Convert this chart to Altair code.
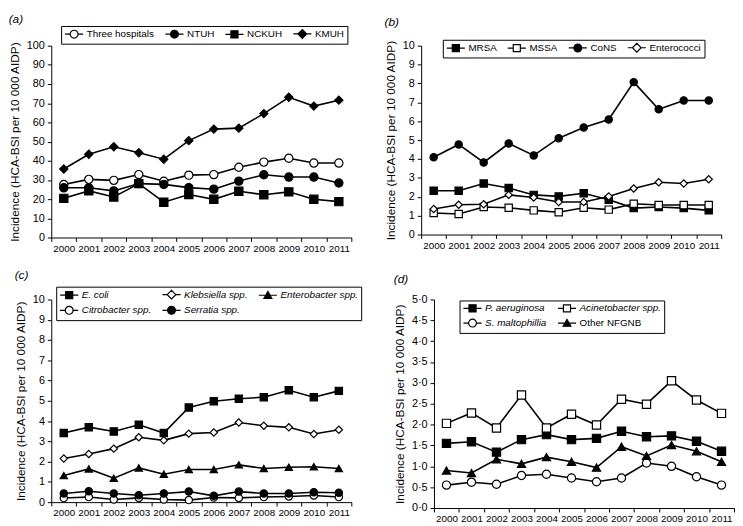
import altair as alt
import pandas as pd

FONT = "Liberation Sans"
YEARS = [str(y) for y in range(2000, 2012)]
YTITLE = "Incidence (HCA-BSI per 10 000 AIDP)"

# Panel (a)
A_SERIES = ["Three hospitals", "NTUH", "NCKUH", "KMUH"]
A_THREE = [27.6, 30.3, 29.8, 32.8, 29.3, 32.5, 32.8, 36.6, 39.3, 41.3, 38.8, 38.8]
A_NTUH = [25.9, 25.9, 24.3, 28.1, 27.7, 26.0, 25.2, 29.4, 32.7, 31.5, 31.5, 28.4]
A_NCKUH = [20.4, 24.3, 21.1, 28.1, 18.4, 22.4, 19.9, 24.1, 22.3, 23.8, 19.9, 18.7]
A_KMUH = [35.7, 43.4, 47.3, 44.2, 40.8, 50.5, 56.5, 57.0, 64.6, 73.1, 68.5, 71.6]

# Panel (b)
B_SERIES = ["MRSA", "MSSA", "CoNS", "Enterococci"]
B_MRSA = [2.32, 2.32, 2.70, 2.46, 2.10, 2.02, 2.19, 1.84, 1.40, 1.46, 1.40, 1.28]
B_MSSA = [1.14, 1.09, 1.46, 1.42, 1.28, 1.18, 1.42, 1.32, 1.63, 1.56, 1.56, 1.56]
B_CONS = [4.09, 4.77, 3.82, 4.82, 4.19, 5.10, 5.67, 6.09, 8.07, 6.63, 7.10, 7.10]
B_ENTEROCOCCI = [1.35, 1.58, 1.60, 2.10, 1.96, 1.72, 1.72, 2.02, 2.44, 2.77, 2.70, 2.93]

# Panel (c)
C_SERIES = ["E. coli", "Klebsiella spp.", "Enterobacter spp.", "Citrobacter spp.", "Serratia spp."]
C_ECOLI = [3.41, 3.70, 3.49, 3.82, 3.41, 4.67, 4.98, 5.10, 5.18, 5.52, 5.18, 5.49]
C_KLEB = [2.15, 2.38, 2.64, 3.20, 3.05, 3.38, 3.44, 3.93, 3.77, 3.69, 3.36, 3.57]
C_ENTERO = [1.31, 1.64, 1.18, 1.69, 1.38, 1.61, 1.61, 1.84, 1.66, 1.72, 1.75, 1.66]
C_CITRO = [0.20, 0.25, 0.13, 0.21, 0.13, 0.10, 0.23, 0.21, 0.25, 0.28, 0.33, 0.25]
C_SERRATIA = [0.43, 0.54, 0.43, 0.34, 0.43, 0.52, 0.31, 0.52, 0.43, 0.43, 0.49, 0.46]

# Panel (d)
D_SERIES = ["P. aeruginosa", "Acinetobacter spp.", "S. maltophillia", "Other NFGNB"]
D_PAER = [1.55, 1.59, 1.34, 1.64, 1.76, 1.64, 1.67, 1.84, 1.71, 1.73, 1.60, 1.36]
D_ACIN = [2.03, 2.28, 1.92, 2.71, 1.92, 2.25, 1.99, 2.61, 2.49, 3.05, 2.59, 2.27]
D_SMALT = [0.55, 0.62, 0.57, 0.78, 0.81, 0.72, 0.63, 0.72, 1.08, 1.00, 0.75, 0.55]
D_OTHER = [0.90, 0.84, 1.17, 1.06, 1.22, 1.11, 0.97, 1.47, 1.25, 1.51, 1.36, 1.11]

# legend glyphs: a short line with the marker on it
LEG_PATHS = {
    ("circle", "white"): "M-1,0H0.3M2.3,0H3.6M0.3,0A1,1,0,1,1,2.3,0A1,1,0,1,1,0.3,0Z",
    ("circle", "black"): "M-1,0H3.6M0.3,0A1,1,0,1,1,2.3,0A1,1,0,1,1,0.3,0Z",
    ("square", "white"): "M-1,0H0.4M2.2,0H3.6M0.4,-0.9H2.2V0.9H0.4Z",
    ("square", "black"): "M-1,0H3.6M0.4,-0.9H2.2V0.9H0.4Z",
    ("diamond", "white"): "M-1,0H0.2M2.4,0H3.6M0.2,0L1.3,-1.1L2.4,0L1.3,1.1Z",
    ("diamond", "black"): "M-1,0H3.6M0.2,0L1.3,-1.1L2.4,0L1.3,1.1Z",
    ("triangle-up", "black"): "M-1,0H3.6M0.3,0.8L1.3,-0.95L2.3,0.8Z",
}


def panel(series, values, shapes, fills, ydom, yvals, w, h, size, leg, title, toff,
          label_expr=None, label_style="normal"):
    rows = []
    for s, vals in zip(series, values):
        for yr, v in zip(YEARS, vals):
            rows.append({"year": yr, "value": v, "series": s})
    df = pd.DataFrame(rows)
    base = alt.Chart(df)
    x = alt.X("year:O", scale=alt.Scale(domain=YEARS, paddingInner=0, paddingOuter=0),
              axis=alt.Axis(title=None, labelAngle=0, tickBand="extent", labelFontSize=10,
                            labelPadding=2, tickSize=4))
    yax = dict(title=YTITLE, values=yvals, tickSize=4, labelFontSize=11, titleFontSize=12,
               titlePadding=5, labelPadding=3)
    if label_expr:
        yax["labelExpr"] = label_expr
    y = alt.Y("value:Q", scale=alt.Scale(domain=ydom, nice=False, zero=False), axis=alt.Axis(**yax))
    lines = base.mark_line(color="black", strokeWidth=1.6).encode(x=x, y=y, detail="series:N")
    pts = base.mark_point(opacity=1, stroke="black", strokeWidth=1.2, size=size).encode(
        x=x, y=y,
        shape=alt.Shape("series:N", scale=alt.Scale(domain=series, range=shapes), legend=None),
        fill=alt.Fill("series:N", scale=alt.Scale(domain=series, range=fills), legend=None),
    )
    legend = alt.Legend(
        title=None, orient="none", legendX=leg[0], legendY=leg[1], columns=leg[2],
        direction="horizontal", strokeColor="black", fillColor="white", padding=3,
        columnPadding=8, rowPadding=2, labelOffset=13, labelFontSize=10, labelFont=FONT,
        labelColor="black", labelLimit=300, symbolSize=64, symbolStrokeWidth=1.2,
        symbolStrokeColor="black", labelFontStyle=label_style,
    )
    lpaths = [LEG_PATHS[(s, f)] for s, f in zip(shapes, fills)]
    lg = base.transform_filter("datum.value < -1000").mark_point(
        opacity=1, strokeWidth=1.2, size=64).encode(
        x=x, y=y,
        shape=alt.Shape("series:N", scale=alt.Scale(domain=series, range=lpaths), legend=legend),
        fill=alt.Fill("series:N", scale=alt.Scale(domain=series, range=fills), legend=legend),
        stroke=alt.Stroke("series:N", scale=alt.Scale(domain=series, range=["black"] * len(series)),
                          legend=legend),
    )
    return alt.layer(lines, pts, lg).resolve_scale(
        shape="independent", fill="independent", stroke="independent").properties(
        width=w, height=h,
        title=alt.TitleParams(title, anchor="start", frame="bounds", fontSize=12, fontStyle="italic",
                              fontWeight="normal", font=FONT, color="black", offset=toff),
    )


pa = panel(A_SERIES, [A_THREE, A_NTUH, A_NCKUH, A_KMUH],
           ["circle", "circle", "square", "diamond"], ["white", "black", "black", "black"],
           [0, 100], list(range(0, 101, 10)), 305, 195, 70, (10, -20, 4), "(a)", 0)
pb = panel(B_SERIES, [B_MRSA, B_MSSA, B_CONS, B_ENTEROCOCCI],
           ["square", "square", "circle", "diamond"], ["black", "white", "black", "white"],
           [0, 10], list(range(0, 11)), 305, 192, 55, (22, -6, 4), "(b)", 10)
pc = panel(C_SERIES, [C_ECOLI, C_KLEB, C_ENTERO, C_CITRO, C_SERRATIA],
           ["square", "diamond", "triangle-up", "circle", "circle"],
           ["black", "white", "black", "white", "black"],
           [0, 10], list(range(0, 11)), 305, 206, 55, (5, -13, 3), "(c)", 4,
           label_style="italic")
pd_ = panel(D_SERIES, [D_PAER, D_ACIN, D_SMALT, D_OTHER],
            ["square", "square", "circle", "triangle-up"], ["black", "white", "white", "black"],
            [0, 5], [i * 0.5 for i in range(11)], 305, 212, 70, (26, 1, 2), "(d)", 8,
            label_expr="replace(format(datum.value, '.1f'), '.', '·')",
            label_style=alt.ExprRef("datum.label == 'Other NFGNB' ? 'normal' : 'italic'"))

chart = alt.vconcat(
    alt.hconcat(pa, pb, spacing=32),
    alt.hconcat(pc, pd_, spacing=32),
    spacing=16,
).properties(padding=0).configure(font=FONT).configure_view(stroke=None).configure_axis(
    domainColor="black", tickColor="black", labelColor="black", titleColor="black",
    grid=False, labelFont=FONT, titleFont=FONT, titleFontWeight="normal", domainWidth=1,
)

chart.save("out.html", embed_options={"renderer": "svg", "actions": False})
